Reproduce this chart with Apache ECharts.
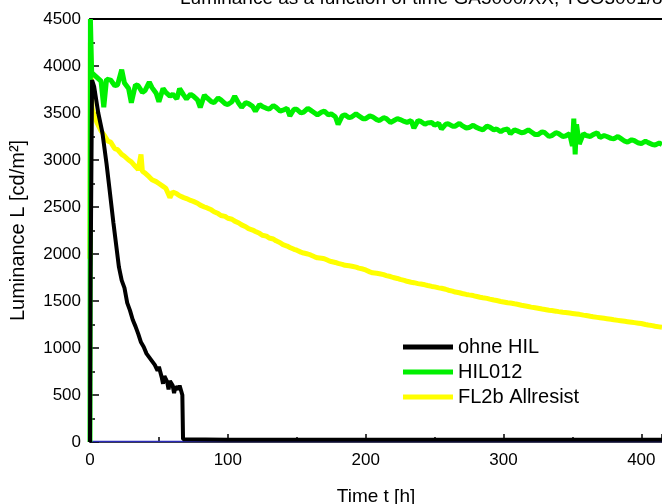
<!DOCTYPE html>
<html><head><meta charset="utf-8">
<script src="https://cdn.jsdelivr.net/npm/echarts@6/dist/echarts.min.js"></script>
<style>html,body{margin:0;padding:0;background:#fff}#c{width:662px;height:504px}</style>
</head><body><div id="c"></div>
<script>
const titleText = 'Luminance as a function of time GA5000/XX, TCO3001/80nm';
const xName = 'Time t [h]';
const yName = 'Luminance L [cd/m²]';
const seriesNames = ['ohne HIL', 'HIL012', 'FL2b Allresist'];
const xTicks = [0, 100, 200, 300, 400];
const yTicks = [0, 500, 1000, 1500, 2000, 2500, 3000, 3500, 4000, 4500];

const ohneHIL = [[0,0],[0.4,1700],[1.5,3850],[3,3780],[6,3500],[9,3290],[12,2960],[14,2710],[17,2330],[21,1860],[23,1720],[25,1640],[27,1480],[29,1400],[31,1300],[33,1230],[35,1150],[37,1060],[39,1010],[41,940],[43,900],[45,860],[47,820],[49,760],[50,800],[52,690],[53,620],[54,700],[56,640],[57,560],[58,650],[60,600],[61,520],[62,590],[64,560],[65,600],[66,550],[67,500],[67.5,30],[100,25],[150,25],[200,25],[250,25],[300,25],[350,25],[415,25]];

const hil012 = [[0,0],[0.3,4500],[1.2,3930],[5,3880],[8,3840],[10,3560],[12,3860],[15,3850],[18,3790],[20,3800],[23,3960],[25,3820],[28,3760],[30,3610],[33,3800],[35,3790],[38,3720],[40,3740],[43,3830],[45,3770],[48,3710],[50,3620],[53,3760],[55,3720],[58,3680],[60,3700],[63,3650],[65,3760],[68,3690],[70,3650],[73,3700],[75,3680],[78,3640],[80,3560],[83,3690],[85,3660],[88,3620],[90,3610],[93,3660],[95,3640],[98,3600],[100,3590],[103,3620],[105,3680],[108,3600],[110,3560],[113,3610],[115,3600],[118,3570],[120,3520],[123,3590],[125,3570],[128,3550],[130,3540],[133,3580],[135,3560],[138,3520],[140,3530],[143,3550],[145,3470],[148,3540],[150,3540],[153,3500],[155,3510],[158,3550],[160,3530],[163,3500],[165,3480],[168,3510],[170,3520],[173,3480],[175,3490],[178,3460],[180,3380],[183,3470],[185,3480],[188,3450],[190,3460],[193,3490],[195,3470],[198,3440],[200,3440],[203,3470],[205,3460],[208,3430],[210,3420],[213,3450],[215,3440],[218,3400],[220,3415],[223,3440],[225,3430],[228,3410],[230,3400],[233,3420],[235,3340],[238,3420],[240,3410],[243,3380],[245,3395],[248,3400],[250,3370],[253,3390],[255,3330],[258,3380],[260,3385],[263,3360],[265,3360],[268,3390],[270,3365],[273,3340],[275,3345],[278,3370],[280,3350],[283,3330],[285,3320],[288,3360],[290,3350],[293,3320],[295,3330],[298,3300],[300,3320],[303,3330],[305,3280],[308,3320],[310,3310],[313,3290],[315,3295],[318,3320],[320,3300],[323,3270],[325,3270],[328,3300],[330,3290],[333,3250],[335,3260],[338,3290],[340,3280],[343,3250],[345,3255],[348,3280],[350,3150],[351,3440],[352,3060],[353,3380],[355,3170],[358,3280],[360,3260],[363,3250],[365,3270],[368,3290],[370,3240],[373,3260],[375,3250],[378,3230],[380,3225],[383,3250],[385,3230],[388,3200],[390,3190],[393,3215],[395,3205],[398,3180],[400,3175],[403,3200],[405,3185],[408,3165],[410,3160],[413,3180],[415,3165]];

const fl2b = [[0,1950],[0.3,4250],[0.8,3900],[1.5,3550],[3,3480],[5,3400],[8,3310],[10,3270],[13,3200],[15,3190],[18,3120],[20,3110],[23,3060],[25,3040],[28,3000],[30,2980],[33,2930],[35,2900],[37,3060],[38,2880],[40,2860],[43,2820],[45,2790],[48,2770],[50,2750],[53,2720],[55,2700],[58,2600],[60,2660],[63,2640],[65,2620],[68,2600],[70,2590],[73,2570],[75,2560],[78,2540],[80,2520],[83,2500],[85,2490],[88,2470],[90,2450],[93,2430],[95,2410],[98,2400],[100,2380],[103,2370],[105,2350],[108,2330],[110,2310],[113,2290],[115,2270],[118,2255],[120,2240],[123,2220],[125,2200],[128,2190],[130,2170],[133,2160],[135,2140],[138,2120],[140,2100],[143,2085],[145,2070],[148,2050],[150,2040],[153,2020],[155,2010],[158,2000],[160,1990],[163,1970],[165,1960],[168,1955],[170,1950],[173,1930],[175,1920],[178,1910],[180,1900],[183,1890],[185,1880],[188,1875],[190,1870],[193,1860],[195,1850],[198,1840],[200,1830],[203,1810],[205,1800],[208,1795],[210,1790],[213,1780],[215,1770],[218,1760],[220,1750],[223,1740],[225,1730],[228,1720],[230,1710],[233,1700],[235,1695],[238,1685],[240,1680],[243,1672],[245,1665],[248,1655],[250,1650],[253,1640],[255,1635],[258,1625],[260,1615],[263,1605],[265,1595],[268,1588],[270,1580],[273,1570],[275,1565],[278,1558],[280,1550],[283,1540],[285,1535],[288,1528],[290,1520],[293,1510],[295,1505],[298,1495],[300,1490],[303,1482],[305,1478],[308,1470],[310,1465],[313,1455],[315,1450],[318,1442],[320,1435],[323,1428],[325,1423],[328,1415],[330,1410],[333,1402],[335,1398],[338,1392],[340,1387],[343,1380],[345,1377],[348,1372],[350,1368],[353,1362],[355,1358],[358,1350],[360,1345],[363,1337],[365,1332],[368,1326],[370,1322],[373,1316],[375,1312],[378,1305],[380,1300],[383,1294],[385,1290],[388,1284],[390,1280],[393,1274],[395,1270],[398,1264],[400,1260],[403,1250],[405,1245],[408,1238],[410,1232],[413,1225],[415,1220]];

const baseline = [[0.5,1950],[0.6,5],[415,5]];

const chart = echarts.init(document.getElementById('c'), null, {renderer: 'canvas'});
const font = 'Liberation Sans, Arial, sans-serif';
chart.setOption({
  animation: false,
  backgroundColor: '#ffffff',
  title: {text: titleText, left: 180, top: -11, padding: 0, textStyle: {fontFamily: font, fontSize: 19, fontWeight: 'normal', color: '#000'}},
  legend: {
    data: seriesNames, orient: 'vertical', left: 398, top: 331, itemWidth: 50, itemHeight: 5, itemGap: 3,
    icon: 'rect', textStyle: {fontFamily: font, fontSize: 20, color: '#000', lineHeight: 22}
  },
  grid: {left: 90, right: 0, top: 19, bottom: 62, outerBoundsMode: 'none'},
  xAxis: [{
    type: 'value', min: 0, max: 415, interval: 100, position: 'bottom',
    name: xName, nameLocation: 'middle', nameGap: 45,
    nameTextStyle: {fontFamily: font, fontSize: 19, color: '#000'},
    axisLine: {show: true, onZero: false, lineStyle: {color: '#000', width: 1.5}},
    axisTick: {show: true, inside: true, length: 8, lineStyle: {color: '#000', width: 1.5}},
    minorTick: {show: true, splitNumber: 2, length: 5, lineStyle: {color: '#000', width: 1.5}},
    axisLabel: {fontFamily: font, fontSize: 17, color: '#000', margin: 10, showMaxLabel: false,
      formatter: v => xTicks.includes(v) ? String(v) : ''},
    splitLine: {show: false}
  }, {
    type: 'value', min: 0, max: 415, position: 'top',
    axisLine: {show: true, onZero: false, lineStyle: {color: '#000', width: 2}},
    axisTick: {show: false}, axisLabel: {show: false}, splitLine: {show: false}
  }],
  yAxis: {
    type: 'value', min: 0, max: 4500, interval: 500,
    name: yName, nameLocation: 'middle', nameGap: 62, nameRotate: 90,
    nameTextStyle: {fontFamily: font, fontSize: 20, color: '#000'},
    axisLine: {show: true, onZero: false, lineStyle: {color: '#000', width: 1.5}},
    axisTick: {show: true, inside: true, length: 9, lineStyle: {color: '#000', width: 1.5}},
    minorTick: {show: true, splitNumber: 2, length: 5, lineStyle: {color: '#000', width: 1.5}},
    axisLabel: {fontFamily: font, fontSize: 17, color: '#000', margin: 9,
      formatter: v => yTicks.includes(v) ? String(v) : ''},
    splitLine: {show: false}
  },
  series: [
    {name: '_base', type: 'line', data: baseline, showSymbol: false, symbol: 'none', lineStyle: {color: '#2a2ab8', width: 1.5}, itemStyle: {color: '#2a2ab8'}, z: 1},
    {name: seriesNames[2], type: 'line', data: fl2b, showSymbol: false, symbol: 'none', lineStyle: {color: '#ffff00', width: 5}, itemStyle: {color: '#ffff00'}, z: 2},
    {name: seriesNames[1], type: 'line', data: hil012, showSymbol: false, symbol: 'none', lineStyle: {color: '#00f000', width: 5}, itemStyle: {color: '#00f000'}, z: 3},
    {name: seriesNames[0], type: 'line', data: ohneHIL, showSymbol: false, symbol: 'none', lineStyle: {color: '#000000', width: 4}, itemStyle: {color: '#000000'}, z: 4}
  ]
});
</script>
</body></html>
